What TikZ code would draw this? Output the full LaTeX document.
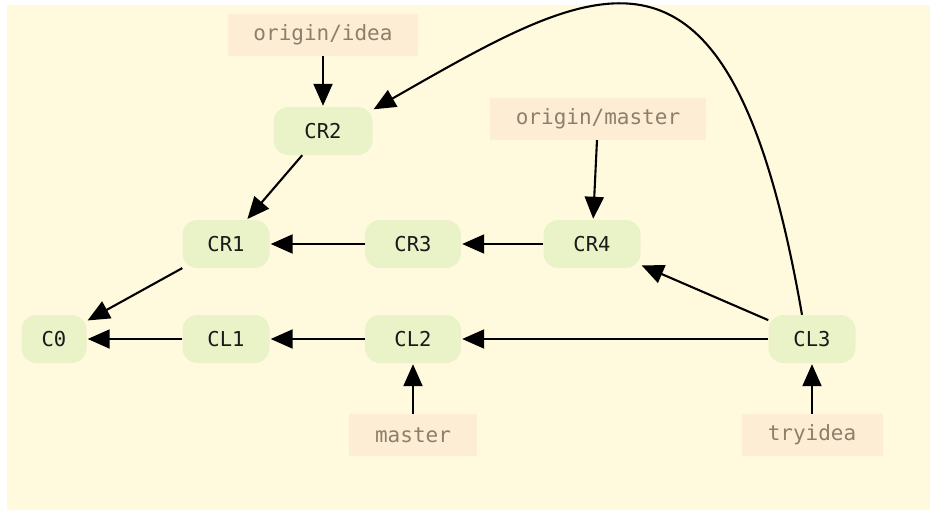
\documentclass[tikz,border=0pt]{standalone}
\usepackage{fontspec}
\setmonofont{DejaVu Sans Mono}
\usetikzlibrary{arrows.meta}
\definecolor{pagebg}{RGB}{255,250,222}
\definecolor{commitfill}{RGB}{234,242,200}
\definecolor{reffill}{RGB}{253,237,212}
\definecolor{reftext}{RGB}{140,128,108}
\definecolor{committext}{RGB}{25,25,25}
\begin{document}
\begin{tikzpicture}[x=1pt,y=-1pt,
  commit/.style={fill=commitfill,rounded corners=15pt,minimum height=48pt,inner sep=0pt,
    font=\ttfamily\fontsize{20.5}{24}\selectfont,text=committext},
  branchref/.style={fill=reffill,minimum height=42pt,inner sep=0pt,
    font=\ttfamily\fontsize{21}{24}\selectfont,text=reftext},
  link/.style={line width=2.1pt,-{Triangle[length=22pt,width=19pt]},shorten >=1pt},
]
\useasboundingbox (0,0) rectangle (934,516);
\fill[pagebg] (7,5) rectangle (930,510);

% commits
\node[commit,minimum width=65pt] (C0)  at (54,339)  {C0};
\node[commit,minimum width=87pt] (CL1) at (226,339) {CL1};
\node[commit,minimum width=96pt] (CL2) at (413,339) {CL2};
\node[commit,minimum width=87pt] (CL3) at (812,339) {CL3};
\node[commit,minimum width=87pt] (CR1) at (226,244) {CR1};
\node[commit,minimum width=96pt] (CR3) at (413,244) {CR3};
\node[commit,minimum width=97pt] (CR4) at (592,244) {CR4};
\node[commit,minimum width=99pt] (CR2) at (323,131) {CR2};

% references
\node[branchref,minimum width=190pt] (oidea)   at (323,35)  {origin/idea};
\node[branchref,minimum width=216pt] (omaster) at (598,119) {origin/master};
\node[branchref,minimum width=128pt] (master)  at (413,435) {master};
\node[branchref,minimum width=141pt] (tryidea) at (812,435) {tryidea};

% parent links
\draw[link] (CL1) -- (C0);
\draw[link] (CL2) -- (CL1);
\draw[link] (CL3) -- (CL2);
\draw[link] (CR1) -- (C0);
\draw[link] (CR3) -- (CR1);
\draw[link] (CR4) -- (CR3);
\draw[link] (CR2) -- (CR1);
\draw[link] (CL3) -- (CR4);
\draw[link] ([xshift=-10pt]CL3.north) .. controls (730,-100) and (600,-20) .. ([yshift=-3pt]CR2.north east);

% reference pointers
\draw[link] (oidea) -- (CR2);
\draw[link] (omaster) -- (CR4);
\draw[link] (master) -- (CL2);
\draw[link] (tryidea) -- (CL3);
\end{tikzpicture}
\end{document}
